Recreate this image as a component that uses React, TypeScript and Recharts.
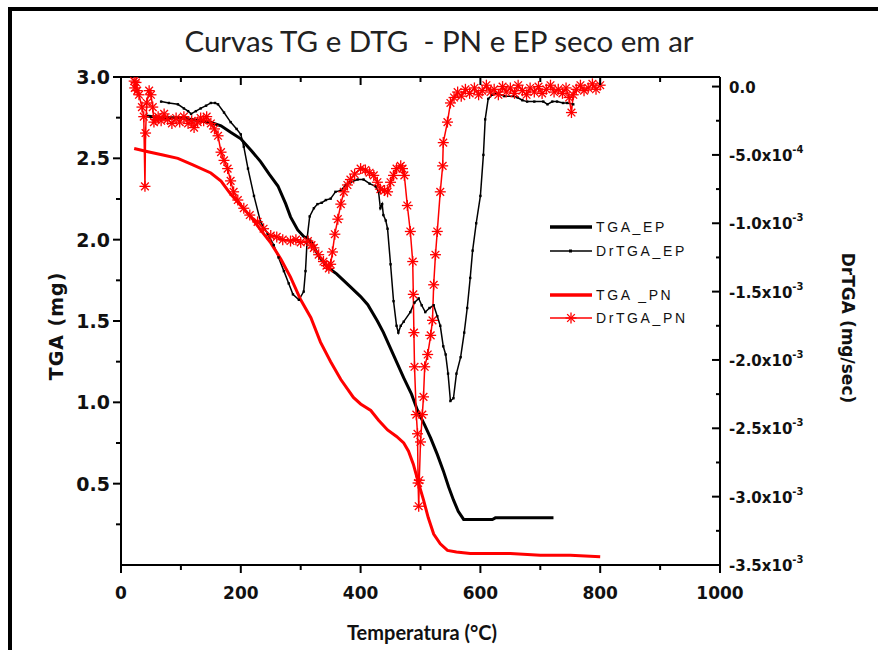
import { LineChart, Line, XAxis, YAxis, Legend } from 'recharts';

// [temperatura °C, massa mg]
const tgaEp: [number, number][] = [
  [42, 2.76], [70, 2.75], [100, 2.75], [133, 2.73], [150, 2.72], [167, 2.7], [183, 2.66],
  [200, 2.62], [217, 2.55], [233, 2.48], [248, 2.4], [262, 2.33], [275, 2.22], [283, 2.14],
  [295, 2.06], [305, 2.02], [317, 1.99], [330, 1.9], [345, 1.83], [360, 1.79], [383, 1.71],
  [400, 1.65], [412, 1.6], [428, 1.5], [438, 1.43], [455, 1.29], [472, 1.15], [485, 1.05],
  [495, 0.95], [507, 0.86], [517, 0.78], [528, 0.68], [538, 0.58], [547, 0.48], [555, 0.4],
  [563, 0.33], [572, 0.28], [620, 0.28], [625, 0.29], [722, 0.29],
];

const tgaPn: [number, number][] = [
  [22, 2.56], [45, 2.54], [70, 2.52], [95, 2.5], [120, 2.46], [150, 2.41], [167, 2.36],
  [183, 2.28], [200, 2.21], [217, 2.14], [233, 2.06], [250, 1.98], [267, 1.88], [283, 1.77],
  [300, 1.63], [317, 1.52], [333, 1.37], [350, 1.25], [367, 1.14], [388, 1.03], [400, 0.99],
  [417, 0.95], [430, 0.89], [445, 0.83], [460, 0.79], [472, 0.75], [480, 0.7], [488, 0.62],
  [497, 0.5], [505, 0.4], [513, 0.29], [522, 0.19], [533, 0.13], [545, 0.09], [560, 0.08],
  [583, 0.07], [650, 0.07], [700, 0.06], [750, 0.06], [800, 0.05],
];

// [temperatura °C, derivada mg/sec]
const drTgaEp: [number, number][] = [
  [67, -0.00011], [80, -0.00012], [95, -0.00013], [105, -0.00016], [112, -0.00018], [117, -0.0002],
  [125, -0.00018], [133, -0.00016], [142, -0.00014], [150, -0.00012], [157, -0.00012], [162, -0.00013],
  [172, -0.00019], [183, -0.00026], [193, -0.00031], [200, -0.00035], [205, -0.00044], [212, -0.0006],
  [222, -0.0008], [233, -0.00099], [245, -0.00108], [255, -0.00116], [263, -0.00125], [272, -0.00135],
  [280, -0.00144], [287, -0.00152], [297, -0.00156], [305, -0.0015], [308, -0.00135], [311, -0.0011],
  [315, -0.00095], [322, -0.00089], [328, -0.00086], [335, -0.00085], [342, -0.00083], [350, -0.00082],
  [358, -0.00077], [367, -0.00076], [375, -0.00072], [383, -0.0007], [395, -0.00068], [405, -0.00068],
  [415, -0.00071], [425, -0.00073], [430, -0.00077], [433, -0.00089], [436, -0.00086], [438, -0.00094],
  [442, -0.00098], [445, -0.00104], [450, -0.0013], [455, -0.00157], [460, -0.00175], [463, -0.0018],
  [467, -0.00175], [472, -0.00172], [483, -0.00165], [490, -0.00158], [497, -0.00155], [502, -0.0016],
  [508, -0.00165], [515, -0.00162], [522, -0.0016], [528, -0.00168], [533, -0.00175], [538, -0.0019],
  [542, -0.00196], [546, -0.0021], [550, -0.0023], [555, -0.00228], [560, -0.0021], [567, -0.00198],
  [573, -0.0018], [578, -0.00162], [583, -0.0014], [587, -0.0012], [593, -0.001], [600, -0.0008],
  [605, -0.0005], [608, -0.00024], [613, -0.00009], [620, -0.00006], [628, -0.00005], [640, -0.00007],
  [655, -0.00007], [662, -0.00008], [670, -0.0001], [678, -0.00011], [690, -0.00011], [705, -0.00011],
  [712, -0.00013], [720, -0.00011], [728, -0.00011], [738, -0.00012], [745, -0.00012], [755, -0.00013],
];

const drTgaPn: [number, number][] = [
  [22, 0.00004], [23, -0.00001], [25, 0.00003], [27, -0.00003], [30, -0.00006], [35, -0.00015],
  [38, -0.00022], [40, -0.00073], [41, -0.00034], [43, -0.00012], [47, -0.00003], [50, -0.00006],
  [53, -0.00015], [55, -0.00026], [58, -0.00024], [62, -0.00022], [67, -0.00025], [72, -0.0002],
  [78, -0.00024], [85, -0.00027], [92, -0.00023], [98, -0.00026], [105, -0.00022], [112, -0.00027],
  [118, -0.00025], [122, -0.0003], [128, -0.00026], [133, -0.00023], [138, -0.00025], [143, -0.00022],
  [150, -0.00027], [156, -0.00031], [162, -0.00036], [167, -0.00048], [172, -0.00054], [178, -0.0006],
  [183, -0.00069], [188, -0.00077], [195, -0.00083], [205, -0.00089], [215, -0.00094], [228, -0.00099],
  [238, -0.00104], [250, -0.00109], [260, -0.0011], [270, -0.00112], [283, -0.00113], [292, -0.00112],
  [300, -0.00114], [312, -0.00113], [318, -0.00116], [322, -0.00118], [330, -0.00123], [338, -0.00128],
  [343, -0.00131], [347, -0.00133], [350, -0.0013], [353, -0.00121], [357, -0.00108], [362, -0.00097],
  [367, -0.00086], [372, -0.00077], [378, -0.00072], [383, -0.00068], [390, -0.00064], [400, -0.0006],
  [408, -0.00061], [415, -0.00063], [422, -0.00065], [428, -0.0007], [433, -0.00075], [440, -0.00076],
  [445, -0.00077], [450, -0.0007], [455, -0.00065], [460, -0.0006], [467, -0.00058], [470, -0.0006],
  [473, -0.00065], [478, -0.00087], [483, -0.00106], [487, -0.00128], [488, -0.00152], [489, -0.0018],
  [490, -0.00205], [493, -0.0024], [495, -0.00254], [496, -0.0029], [497, -0.00307], [498, -0.00288],
  [500, -0.0026], [503, -0.0024], [505, -0.00227], [507, -0.00205], [512, -0.00196], [517, -0.00182],
  [520, -0.00171], [522, -0.00145], [525, -0.00123], [528, -0.00106], [533, -0.00077], [537, -0.00058],
  [538, -0.00041], [545, -0.00026], [550, -0.00012], [556, -0.00008], [562, -0.00004], [568, -0.00007],
  [575, -0.00002], [582, -0.00005], [590, -0.00001], [597, -0.00006], [603, -0.00003], [610, 0.00001],
  [617, -0.00004], [623, -0.00002], [630, -0.00006], [637, 0], [643, -0.00004], [650, -0.00001],
  [657, -0.00005], [663, 0.00001], [670, -0.00003], [677, -0.00006], [683, -0.00001], [690, -0.00004],
  [697, 0], [703, -0.00005], [710, -0.00002], [717, 0.00001], [723, -0.00004], [730, -0.00002],
  [737, -0.00005], [743, -0.00001], [748, -0.00008], [752, -0.00019], [755, -0.00006], [760, -0.00002],
  [767, 0.00001], [773, -0.00003], [780, -0.00001], [787, 0.00002], [793, -0.00002], [800, 0.00001],
];

const X_TICKS = [0, 100, 200, 300, 400, 500, 600, 700, 800, 900, 1000];
const TGA_TICKS = [0.25, 0.5, 0.75, 1.0, 1.25, 1.5, 1.75, 2.0, 2.25, 2.5, 2.75, 3.0];
const DTG_TICKS = [
  -0.0035, -0.00325, -0.003, -0.00275, -0.0025, -0.00225, -0.002, -0.00175, -0.0015,
  -0.00125, -0.001, -0.00075, -0.0005, -0.00025, 0,
];

const LEGEND_ROWS = [
  { name: 'TGA_EP', color: '#000', width: 3.5, mark: 'none', top: 0 },
  { name: 'DrTGA_EP', color: '#000', width: 1.5, mark: 'dot', top: 24 },
  { name: 'TGA _PN', color: '#ff0000', width: 3.5, mark: 'none', top: 68 },
  { name: 'DrTGA_PN', color: '#ff0000', width: 1.5, mark: 'star', top: 91 },
];

const toPoints = (rows: [number, number][]) => rows.map(([T, v]) => ({ T, v }));

const TICK_FONT = "'DejaVu Sans', Verdana, sans-serif";

const Star = ({ cx, cy, s = 5.5, color = '#ff0000' }: any) => {
  if (cx == null || cy == null) return null;
  const d = s * 0.7;
  return (
    <g stroke={color} strokeWidth={1.3}>
      <line x1={cx - s} y1={cy} x2={cx + s} y2={cy} />
      <line x1={cx} y1={cy - s} x2={cx} y2={cy + s} />
      <line x1={cx - d} y1={cy - d} x2={cx + d} y2={cy + d} />
      <line x1={cx - d} y1={cy + d} x2={cx + d} y2={cy - d} />
    </g>
  );
};

const SmallDot = ({ cx, cy }: any) => {
  if (cx == null || cy == null) return null;
  return <rect x={cx - 1.2} y={cy - 1.2} width={2.4} height={2.4} fill="#000" />;
};

const isMajor = (v: number, step: number) => Math.abs(v / step - Math.round(v / step)) < 1e-6;

const BottomTick = ({ x, y, payload }: any) => {
  const major = isMajor(payload.value, 200);
  return (
    <g>
      <line x1={x} x2={x} y1={y} y2={y + (major ? 8 : 5)} stroke="#000" strokeWidth={2} />
      {major && (
        <text x={x} y={y + 34} textAnchor="middle" fontFamily={TICK_FONT} fontWeight="bold" fontSize={17} fill="#111">
          {payload.value}
        </text>
      )}
    </g>
  );
};

const TopTick = ({ x, y, payload }: any) => {
  const major = isMajor(payload.value, 200);
  return <line x1={x} x2={x} y1={y} y2={y + (major ? 8 : 5)} stroke="#000" strokeWidth={2} />;
};

const LeftTick = ({ x, y, payload }: any) => {
  const major = isMajor(payload.value, 0.5);
  return (
    <g>
      <line x1={x} x2={x - (major ? 8 : 5)} y1={y} y2={y} stroke="#000" strokeWidth={2} />
      {major && (
        <text x={x - 11} y={y + 7} textAnchor="end" fontFamily={TICK_FONT} fontWeight="bold" fontSize={19} fill="#111">
          {payload.value.toFixed(1)}
        </text>
      )}
    </g>
  );
};

const dtgLabel = (v: number): [string, string] => {
  if (v === 0) return ['0.0', ''];
  const e = Math.floor(Math.log10(Math.abs(v)) + 1e-9);
  const m = v / Math.pow(10, e);
  return [m.toFixed(1) + 'x10', String(e)];
};

const RightTick = ({ x, y, payload, index }: any) => {
  const major = index % 2 === 0;
  const [main, exp] = dtgLabel(payload.value);
  return (
    <g>
      <line x1={x} x2={x - (major ? 8 : 4)} y1={y} y2={y} stroke="#000" strokeWidth={2} />
      {major && (
        <text x={x + 9} y={y + 6} fontFamily={TICK_FONT} fontWeight="bold" fontSize={15} fill="#111">
          {main}
          {exp && (
            <tspan dy={-8} fontSize={10}>
              {exp}
            </tspan>
          )}
        </text>
      )}
    </g>
  );
};

const LegendBox = () => (
  <div style={{ position: 'relative', width: 170, height: 110, fontFamily: "'Liberation Sans', Arial, sans-serif", fontSize: 14, letterSpacing: 2.6, color: '#111' }}>
    {LEGEND_ROWS.map((row) => (
      <div key={row.name} style={{ position: 'absolute', left: 0, top: row.top, height: 18, display: 'flex', alignItems: 'center', whiteSpace: 'nowrap' }}>
        <svg width={45} height={18} style={{ display: 'block' }}>
          <line x1={1} x2={43} y1={9} y2={9} stroke={row.color} strokeWidth={row.width} />
          {row.mark === 'dot' && <rect x={20} y={7.5} width={3} height={3} fill="#000" />}
          {row.mark === 'star' && <Star cx={22} cy={9} s={5.5} />}
        </svg>
        <span style={{ marginLeft: 2 }}>{row.name}</span>
      </div>
    ))}
  </div>
);

export default function App() {
  return (
    <div style={{ position: 'absolute', left: 0, top: 0, width: 878, height: 650, background: '#fff', overflow: 'hidden' }}>
      <div style={{ position: 'absolute', left: 8, top: 7, width: 900, height: 700, borderTop: '4px solid #000', borderLeft: '4px solid #000' }} />
      <div style={{ position: 'absolute', left: 0, top: 23, width: 878, textAlign: 'center', fontFamily: 'Lato, sans-serif', fontSize: 29.5, color: '#222' }}>
        Curvas TG e DTG&nbsp; - PN e EP seco em ar
      </div>
      <LineChart width={878} height={650} margin={{ top: 57, right: 0, bottom: 0, left: 0 }}>
        <XAxis
          xAxisId="bottom"
          dataKey="T"
          type="number"
          domain={[0, 1000]}
          ticks={X_TICKS}
          allowDataOverflow
          height={85}
          tickSize={0}
          tickMargin={0}
          tickLine={false}
          axisLine={{ stroke: '#000', strokeWidth: 2 }}
          tick={<BottomTick />}
          interval={0}
        />
        <XAxis
          xAxisId="top"
          orientation="top"
          dataKey="T"
          type="number"
          domain={[0, 1000]}
          ticks={X_TICKS}
          allowDataOverflow
          height={20}
          tickSize={0}
          tickMargin={0}
          tickLine={false}
          axisLine={{ stroke: '#000', strokeWidth: 2 }}
          tick={<TopTick />}
          interval={0}
        />
        <YAxis
          yAxisId="tga"
          type="number"
          domain={[0, 3]}
          ticks={TGA_TICKS}
          allowDataOverflow
          width={121}
          tickSize={0}
          tickMargin={0}
          tickLine={false}
          axisLine={{ stroke: '#000', strokeWidth: 2 }}
          tick={<LeftTick />}
          interval={0}
        />
        <YAxis
          yAxisId="dtg"
          orientation="right"
          type="number"
          domain={[-0.0035, 0.00007]}
          ticks={DTG_TICKS}
          allowDataOverflow
          width={158}
          tickSize={0}
          tickMargin={0}
          tickLine={false}
          axisLine={{ stroke: '#000', strokeWidth: 2 }}
          tick={<RightTick />}
          interval={0}
        />
        <Legend
          layout="vertical"
          align="center"
          verticalAlign="middle"
          content={<LegendBox />}
          wrapperStyle={{ left: 549, top: 218, width: 170, height: 110 }}
        />
        <Line
          xAxisId="bottom"
          yAxisId="tga"
          data={toPoints(tgaEp)}
          dataKey="v"
          name="TGA_EP"
          type="linear"
          stroke="#000"
          strokeWidth={3}
          dot={false}
          isAnimationActive={false}
        />
        <Line
          xAxisId="bottom"
          yAxisId="dtg"
          data={toPoints(drTgaEp)}
          dataKey="v"
          name="DrTGA_EP"
          type="linear"
          stroke="#000"
          strokeWidth={1.5}
          dot={(p: any) => <SmallDot key={`e${p.index}`} cx={p.cx} cy={p.cy} />}
          isAnimationActive={false}
        />
        <Line
          xAxisId="bottom"
          yAxisId="tga"
          data={toPoints(tgaPn)}
          dataKey="v"
          name="TGA _PN"
          type="linear"
          stroke="#ff0000"
          strokeWidth={3}
          dot={false}
          isAnimationActive={false}
        />
        <Line
          xAxisId="bottom"
          yAxisId="dtg"
          data={toPoints(drTgaPn)}
          dataKey="v"
          name="DrTGA_PN"
          type="linear"
          stroke="#ff0000"
          strokeWidth={1.5}
          dot={(p: any) => <Star key={`p${p.index}`} cx={p.cx} cy={p.cy} />}
          isAnimationActive={false}
        />
      </LineChart>
      <div style={{ position: 'absolute', left: 56, top: 326, transform: 'translate(-50%, -50%) rotate(-90deg)', whiteSpace: 'nowrap', fontFamily: TICK_FONT, fontWeight: 'bold', fontSize: 19, letterSpacing: 1, color: '#111' }}>
        TGA (mg)
      </div>
      <div style={{ position: 'absolute', left: 848, top: 328, transform: 'translate(-50%, -50%) rotate(90deg)', whiteSpace: 'nowrap', fontFamily: TICK_FONT, fontWeight: 'bold', fontSize: 17, color: '#111' }}>
        DrTGA (mg/sec)
      </div>
      <div style={{ position: 'absolute', left: 422, top: 632, transform: 'translate(-50%, -50%)', whiteSpace: 'nowrap', fontFamily: 'Lato, sans-serif', fontWeight: 'bold', fontSize: 20, color: '#111' }}>
        Temperatura (°C)
      </div>
    </div>
  );
}
